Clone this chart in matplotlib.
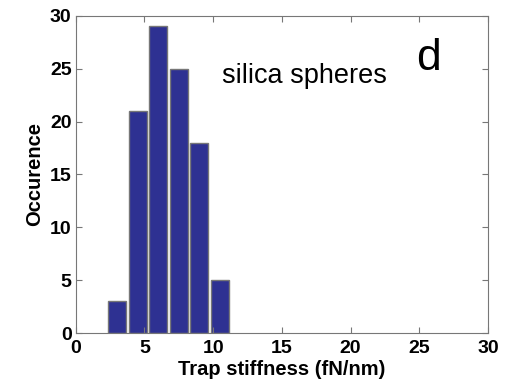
import matplotlib
matplotlib.use("Agg")
import matplotlib.pyplot as plt

plt.rcParams['font.family'] = ['Liberation Sans', 'DejaVu Sans']

centers = [3.0, 4.5, 6.0, 7.5, 9.0, 10.5]
counts = [3, 21, 29, 25, 18, 5]
xticks = [0, 5, 10, 15, 20, 25, 30]
yticks = [0, 5, 10, 15, 20, 25, 30]

fig = plt.figure(figsize=(5.12, 3.85), dpi=100)
ax = fig.add_axes([0.148, 0.135, 0.805, 0.824])
ax.bar(centers, counts, width=1.3, color="#2e3192", edgecolor="#777777", linewidth=1)
ax.set_xlim(0, 30)
ax.set_ylim(0, 30)
ax.set_xticks(xticks)
ax.set_yticks(yticks)
ax.tick_params(direction="in", top=True, right=True, length=4, color="#777777",
               labelsize=14)
ax.tick_params(axis="x", pad=5)
ax.tick_params(axis="y", pad=3)
for lab in ax.get_xticklabels() + ax.get_yticklabels():
    lab.set_fontweight("bold")
for s in ax.spines.values():
    s.set_color("#777777")
ax.set_xlabel("Trap stiffness (fN/nm)", fontsize=14.5, fontweight="bold", labelpad=2)
ax.set_ylabel("Occurence", fontsize=14.5, fontweight="bold", labelpad=4)
ax.text(10.65, 24.3, "silica spheres", fontsize=19.5, va="center", ha="left")
ax.text(25.7, 24.9, "d", fontsize=32, va="baseline", ha="center")
fig.savefig("out.png", dpi=100)
